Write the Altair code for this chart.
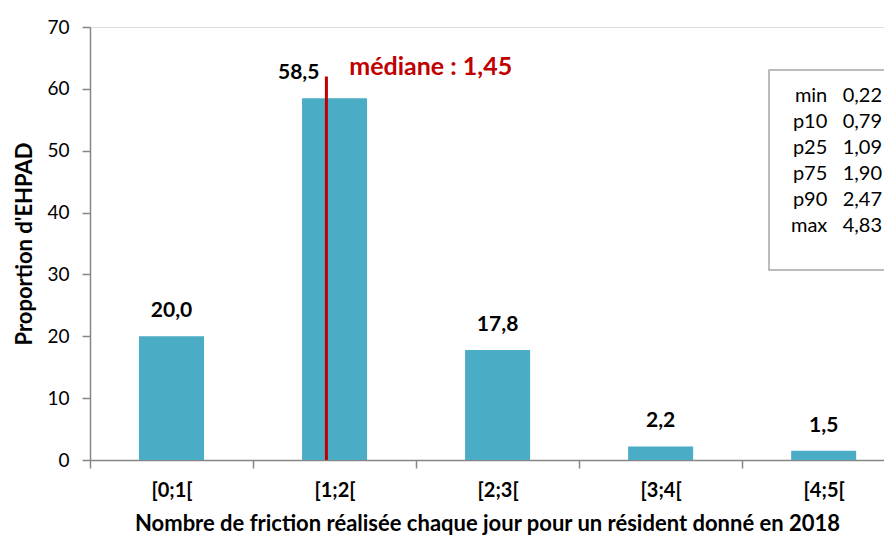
import altair as alt
import pandas as pd

categories = ["[0;1[", "[1;2[", "[2;3[", "[3;4[", "[4;5["]
lower_bounds = [0, 1, 2, 3, 4]
values = [20.0, 58.5, 17.8, 2.2, 1.5]
value_labels = ["20,0", "58,5", "17,8", "2,2", "1,5"]
median_value = 1.45
median_label = "médiane : 1,45"
median_top = 62
stat_names = ["min", "p10", "p25", "p75", "p90", "max"]
stat_values = ["0,22", "0,79", "1,09", "1,90", "2,47", "4,83"]

FONT = "Lato"
BAR = "#4BACC6"
RED = "#C00000"
GREY = "#868686"

df = pd.DataFrame({
    "cat": categories,
    "mid": [b + 0.5 for b in lower_bounds],
    "val": values,
    "lab": value_labels,
    "shift": [0, -0.22, 0, 0, 0],
})

xscale = alt.Scale(domain=[0, 4.87], nice=False, zero=False, padding=0)
yscale = alt.Scale(domain=[0, 70], nice=False, padding=0)

tick_axis = alt.Axis(values=[0, 1, 2, 3, 4, 5], labels=False, tickSize=8, domainColor=GREY,
                     tickColor=GREY, domainWidth=1.5, tickWidth=1.5, grid=False, title=None,
                     orient="bottom")

label_expr = "datum.value == 0.5 ? '[0;1[' : datum.value == 1.5 ? '[1;2[' : datum.value == 2.5 ? '[2;3[' : datum.value == 3.5 ? '[3;4[' : '[4;5['"
label_axis = alt.Axis(values=[0.5, 1.5, 2.5, 3.5, 4.5], labelExpr=label_expr, tickSize=0,
                      domain=False, grid=False, labelPadding=20, labelFont=FONT,
                      labelFontSize=20, labelFontWeight="bold", labelColor="#000000",
                      title="Nombre de friction réalisée chaque jour pour un résident donné en 2018",
                      titleFont=FONT, titleFontSize=22, titleFontWeight="bold",
                      titleColor="#000000", titlePadding=13, orient="bottom")

y_axis = alt.Axis(values=list(range(0, 71, 10)), tickSize=8, domainColor=GREY, tickColor=GREY,
                  domainWidth=1.5, tickWidth=1.5, grid=False, labelFont=FONT, labelFontSize=19,
                  labelColor="#000000", labelPadding=13,
                  title="Proportion d'EHPAD", titleFont=FONT, titleFontSize=22,
                  titleFontWeight="bold", titleColor="#000000", titlePadding=10)

bars = alt.Chart(df).mark_bar(color=BAR, size=65).encode(
    x=alt.X("mid:Q", scale=xscale, axis=tick_axis),
    y=alt.Y("val:Q", scale=yscale, axis=y_axis),
)

labels_axis_layer = alt.Chart(df).mark_point(opacity=0).encode(
    x=alt.X("mid:Q", scale=xscale, axis=label_axis),
    y=alt.Y("val:Q", scale=yscale),
)

bar_labels = alt.Chart(df).transform_calculate(
    lx="datum.mid + datum.shift"
).mark_text(font=FONT, fontSize=21, fontWeight="bold",
            color="#000000", baseline="alphabetic", dy=-19).encode(
    x=alt.X("lx:Q", scale=xscale, axis=None),
    y=alt.Y("val:Q", scale=yscale),
    text="lab:N",
)

med = pd.DataFrame({"x": [median_value], "y0": [0], "y1": [median_top], "lab": [median_label],
                    "tx": [median_value + 0.14], "ty": [median_top + 1.6]})

median_rule = alt.Chart(med).mark_rule(color=RED, strokeWidth=3).encode(
    x=alt.X("x:Q", scale=xscale, axis=None),
    y=alt.Y("y0:Q", scale=yscale),
    y2="y1:Q",
)

median_text = alt.Chart(med).mark_text(font=FONT, fontSize=25, fontWeight="bold", color=RED,
                                       align="left", baseline="middle").encode(
    x=alt.X("tx:Q", scale=xscale, axis=None),
    y=alt.Y("ty:Q", scale=yscale),
    text="lab:N",
)

stat_lines = [f"{n}\u00a0\u00a0\u00a0{v}" for n, v in zip(stat_names, stat_values)]

box = alt.Chart(pd.DataFrame({"a": [0]})).mark_rect(
    fill="white", stroke="#A6A6A6", strokeWidth=1.5
).encode(x=alt.value(679), x2=alt.value(799), y=alt.value(43), y2=alt.value(243))

stats_text = alt.Chart(pd.DataFrame({"a": [0]})).mark_text(
    text=stat_lines, font=FONT, fontSize=20, color="#000000", align="right",
    baseline="middle", lineHeight=26
).encode(x=alt.value(792), y=alt.value(69))

chart = alt.layer(
    bars, labels_axis_layer, median_rule, bar_labels, median_text, box, stats_text
).resolve_axis(x="independent").properties(
    width=794, height=433,
    autosize=alt.AutoSizeParams(type="none"),
    padding={"left": 82, "top": 19, "right": 0, "bottom": 77},
).configure_view(stroke=None).configure(background="white")

chart.save("out.html", embed_options={"renderer": "svg", "actions": False})
